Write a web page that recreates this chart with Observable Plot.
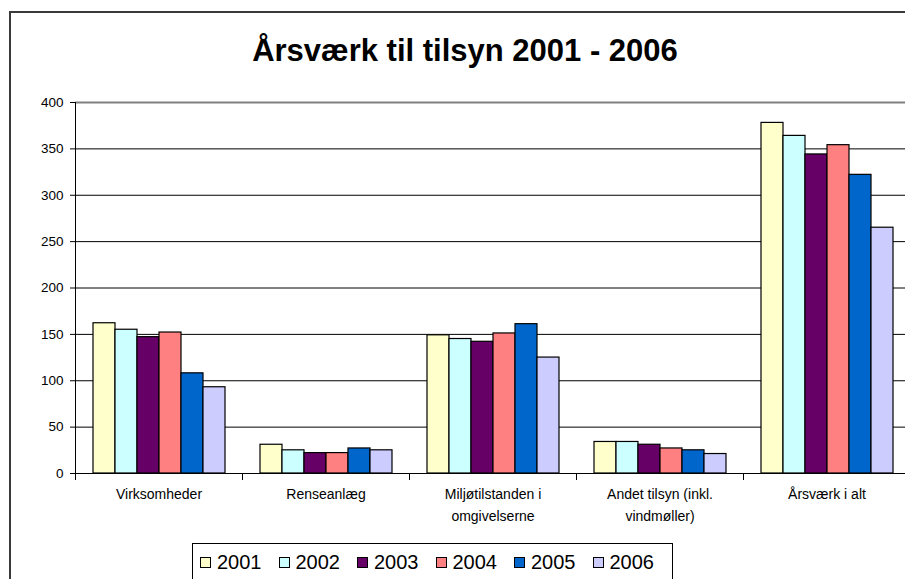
<!DOCTYPE html>
<html>
<head>
<meta charset="utf-8">
<script src="https://cdn.jsdelivr.net/npm/d3@7"></script>
<script src="https://cdn.jsdelivr.net/npm/@observablehq/plot@0.6"></script>
<style>
  body { margin: 0; background: #fff; font-family: Arial, "Liberation Sans", sans-serif; }
  #wrap { position: relative; width: 905px; height: 579px; overflow: hidden; background: #fff; }
  #chart { position: absolute; left: 0; top: 0; }
  #frame { position: absolute; left: 9px; top: 11px; width: 1000px; height: 700px; border: 2px solid #3a3a3a; box-sizing: border-box; pointer-events: none; }
  #title { position: absolute; left: 0; width: 930px; top: 34px; text-align: center; font-weight: bold; font-size: 31px; line-height: 34px; color: #000; }
  #legend { position: absolute; left: 192px; top: 543px; width: 481px; height: 40px; border: 1px solid #000; box-sizing: border-box; display: flex; align-items: flex-start; padding: 5px 0 0 7px; background: #fff; }
  .item { display: flex; align-items: center; font-size: 20px; line-height: 26px; margin-right: 17px; }
  .sw { width: 9px; height: 9px; border: 1px solid #000; margin-right: 6px; }
</style>
</head>
<body>
<div id="wrap">
  <div id="chart"></div>
  <div id="frame"></div>
  <div id="title"></div>
  <div id="legend"></div>
</div>
<script>
const titleText = "Årsværk til tilsyn 2001 - 2006";
const categories = ["Virksomheder", "Renseanlæg", "Miljøtilstanden i\nomgivelserne", "Andet tilsyn (inkl.\nvindmøller)", "Årsværk i alt"];
const years = ["2001", "2002", "2003", "2004", "2005", "2006"];
const v2001 = [162, 31, 149, 34, 378];
const v2002 = [155, 25, 145, 34, 364];
const v2003 = [147, 22, 142, 31, 344];
const v2004 = [152, 22, 151, 27, 354];
const v2005 = [108, 27, 161, 25, 322];
const v2006 = [93, 25, 125, 21, 265];
const colors = ["#FFFFCC", "#CCFFFF", "#660066", "#FF8080", "#0066CC", "#CCCCFF"];
const yTicks = [0, 50, 100, 150, 200, 250, 300, 350, 400];

const series = [v2001, v2002, v2003, v2004, v2005, v2006];
const data = [];
categories.forEach((c, i) => {
  years.forEach((y, j) => data.push({cat: c, year: y, value: series[j][i]}));
});

document.getElementById("title").textContent = titleText;

const W = 911, H = 540, mTop = 102, mBottom = 67;
const plotH = H - mTop - mBottom;

const chart = Plot.plot({
  width: W,
  height: H,
  marginLeft: 73,
  marginRight: 0,
  marginTop: mTop,
  marginBottom: mBottom,
  style: {background: "transparent", maxWidth: "none", overflow: "visible", fontFamily: "Arial, 'Liberation Sans', sans-serif", color: "#000"},
  fx: {domain: categories, padding: 0, axis: null},
  x: {domain: years, paddingInner: 0, paddingOuter: 0.76, axis: null},
  y: {domain: [0, 400]},
  color: {domain: years, range: colors},
  marks: [
    Plot.gridY(yTicks.filter(d => d > 0 && d < 400), {stroke: "#000", strokeOpacity: 1, strokeWidth: 1}),
    Plot.ruleY([400], {stroke: "#808080", strokeWidth: 2}),
    Plot.barY(data, {fx: "cat", x: "year", y: "value", fill: "year", stroke: "#000", strokeWidth: 1.2}),
    Plot.ruleY([0], {stroke: "#000", strokeWidth: 1}),
    Plot.frame({anchor: "left", facetAnchor: "left", stroke: "#000", strokeWidth: 1}),
    Plot.frame({anchor: "left", insetTop: plotH, insetBottom: -6, stroke: "#000", strokeWidth: 1}),
    Plot.axisY({ticks: yTicks, tickSize: 5, tickPadding: 7, fontSize: 13.5, label: null, stroke: "#000"}),
    Plot.axisFx({anchor: "bottom", tickSize: 0, tickPadding: 10, fontSize: 14, lineHeight: 1.57, label: null})
  ]
});
document.getElementById("chart").appendChild(chart);

const legend = document.getElementById("legend");
years.forEach((y, j) => {
  const it = document.createElement("div");
  it.className = "item";
  const sw = document.createElement("div");
  sw.className = "sw";
  sw.style.background = colors[j];
  it.appendChild(sw);
  const t = document.createElement("span");
  t.textContent = y;
  it.appendChild(t);
  legend.appendChild(it);
});
</script>
</body>
</html>
